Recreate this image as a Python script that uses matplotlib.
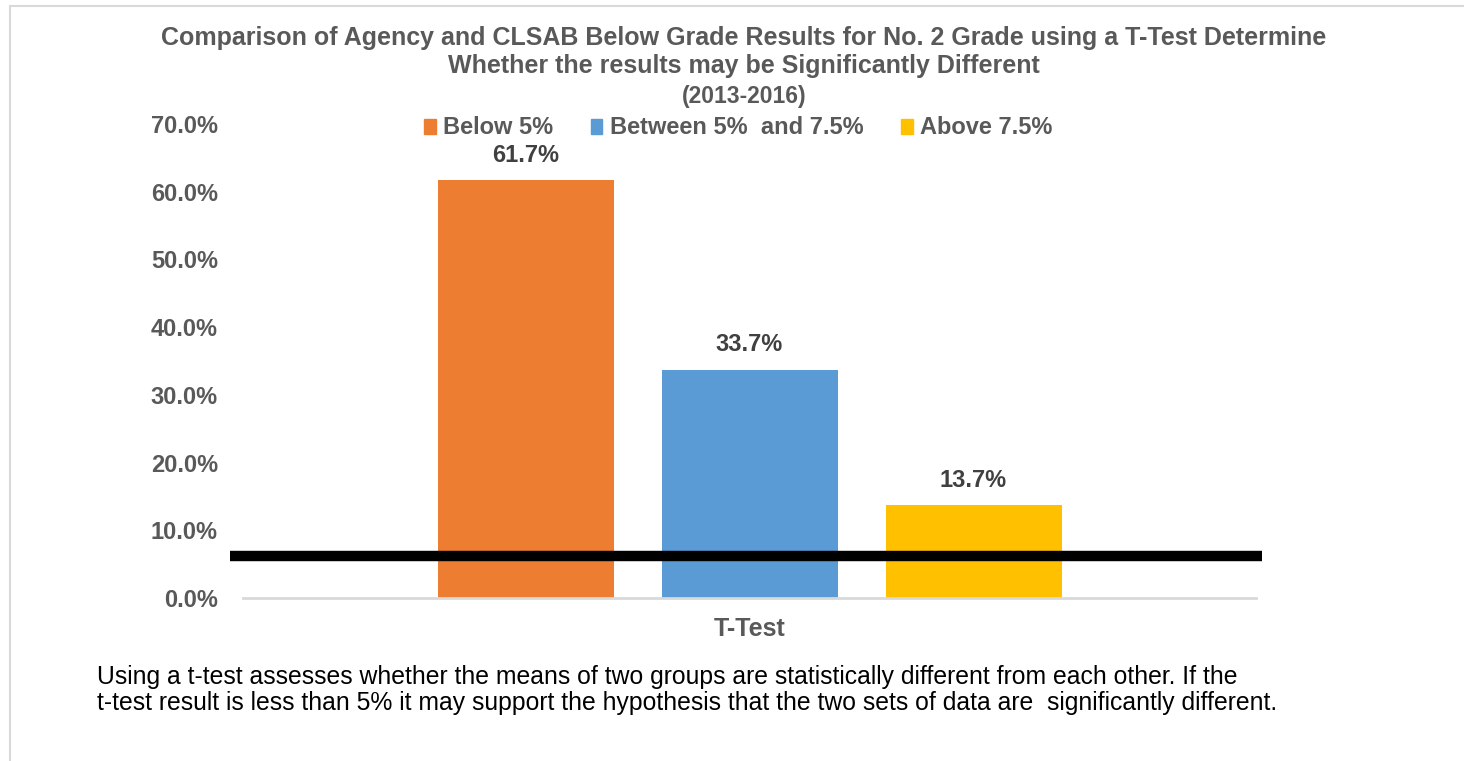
import matplotlib
matplotlib.use("Agg")
import matplotlib.pyplot as plt
from matplotlib.patches import Rectangle, Patch

plt.rcParams['font.family'] = ['Liberation Sans', 'DejaVu Sans']

categories = ["T-Test"]
series_names = ["Below 5%", "Between 5%  and 7.5%", "Above 7.5%"]
series_values = [61.7, 33.7, 13.7]
series_colors = ["#ED7D31", "#5B9BD5", "#FFC000"]
threshold = 6.2
y_ticks = [0, 10, 20, 30, 40, 50, 60, 70]
title_lines = ["Comparison of Agency and CLSAB Below Grade Results for No. 2 Grade using a T-Test Determine",
               "Whether the results may be Significantly Different"]
subtitle = "(2013-2016)"
note = ("Using a t-test assesses whether the means of two groups are statistically different from each other. If the\n"
        "t-test result is less than 5% it may support the hypothesis that the two sets of data are  significantly different.")

W, H = 1464, 761
fig = plt.figure(figsize=(W / 100, H / 100), dpi=100)

# outer border
fig.patches.append(Rectangle((10 / W, -0.1), 1.2, 1.1 - 6 / H, transform=fig.transFigure,
                             fill=False, edgecolor="#D9D9D9", linewidth=1.5))

ax = fig.add_axes([243 / W, 1 - 598 / H, (1256 - 243) / W, (598 - 124) / H])

bar_w = 176 / 1013
step = 224 / 1013
for i, (name, val, col) in enumerate(zip(series_names, series_values, series_colors)):
    x = (i - 1) * step
    ax.bar(x, val, width=bar_w, color=col, label=name, zorder=2)
    ax.text(x, val + 2.0, f"{val:.1f}%", ha="center", va="bottom", fontsize=17,
            fontweight="bold", color="#404040")

ax.plot([-0.513, 0.506], [threshold, threshold], color="black", linewidth=7.5,
        solid_capstyle="butt", clip_on=False, zorder=3)

ax.set_xlim(-0.5, 0.5)
ax.set_ylim(0, 70)
ax.set_yticks(y_ticks)
ax.set_yticklabels([f"{t:.1f}%" for t in y_ticks], fontsize=17, fontweight="bold", color="#595959")
ax.set_xticks([0])
ax.set_xticklabels(categories, fontsize=18, fontweight="bold", color="#595959")
ax.tick_params(axis="both", length=0)
ax.tick_params(axis="y", pad=18)
ax.tick_params(axis="x", pad=14)
for s in ["top", "right", "left"]:
    ax.spines[s].set_visible(False)
ax.spines["bottom"].set_color("#D9D9D9")
ax.spines["bottom"].set_linewidth(2)

fig.text(744 / W, 1 - 38 / H, title_lines[0], ha="center", va="center", fontsize=18,
         fontweight="bold", color="#595959")
fig.text(744 / W, 1 - 66 / H, title_lines[1], ha="center", va="center", fontsize=18,
         fontweight="bold", color="#595959")
fig.text(744 / W, 1 - 97 / H, subtitle, ha="center", va="center", fontsize=16.5,
         fontweight="bold", color="#595959")

handles = [Patch(color=c, label=n) for n, c in zip(series_names, series_colors)]
leg = fig.legend(handles=handles, loc="center", bbox_to_anchor=(738 / W, 1 - 128 / H), ncol=3,
                 frameon=False, handlelength=0.5, handleheight=0.6, handletextpad=0.3,
                 columnspacing=1.6, prop={"size": 17, "weight": "bold"})
for t in leg.get_texts():
    t.set_color("#595959")

fig.text(97 / W, 1 - 690 / H, note, ha="left", va="center", fontsize=17.8, color="black",
         linespacing=1.1)

fig.savefig("out.png", dpi=100)
